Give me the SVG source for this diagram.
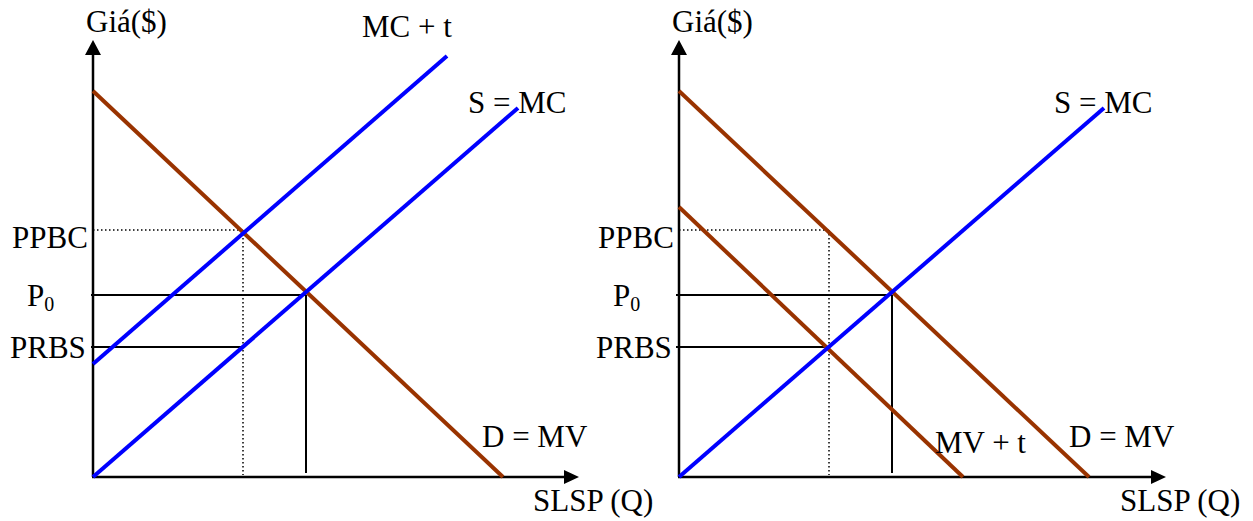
<svg xmlns="http://www.w3.org/2000/svg" width="1253" height="521" viewBox="0 0 1253 521">
<style>
text{font-family:"Liberation Serif","Times New Roman",serif;font-size:31px;fill:#000}
.sub{font-size:20px}
.axis{stroke:#000;stroke-width:2.5;fill:none}
.solid{stroke:#000;stroke-width:2;fill:none}
.dot{stroke:#000;stroke-width:1.5;stroke-dasharray:1.5 2.5;fill:none}
.blue{stroke:#0000FF;stroke-width:4;fill:none}
.brown{stroke:#993300;stroke-width:4;fill:none}
.head{fill:#000}
</style>
<rect width="1253" height="521" fill="#fff"/>
<g id="left-chart">
  <g id="left-axes">
    <line class="axis" x1="93" y1="54" x2="93" y2="477"/>
    <line class="axis" x1="92" y1="477" x2="565" y2="477"/>
    <polygon class="head" points="93,40 85,55 101,55"/>
    <polygon class="head" points="579,477 564,470 564,484"/>
    <text x="86" y="32">Giá($)</text>
    <text x="533" y="511">SLSP (Q)</text>
  </g>
  <g id="left-guides">
    <line class="dot" x1="93" y1="230" x2="243" y2="230"/>
    <line class="dot" x1="243" y1="230" x2="243" y2="475"/>
    <line class="solid" x1="91" y1="295" x2="306" y2="295"/>
    <line class="solid" x1="306" y1="295" x2="306" y2="473"/>
    <line class="solid" x1="91" y1="347" x2="243" y2="347"/>
  </g>
  <g id="left-curves">
    <line class="brown" x1="93" y1="91" x2="503" y2="477"/>
    <line class="blue" x1="93" y1="364" x2="447" y2="56"/>
    <line class="blue" x1="93" y1="477" x2="518" y2="108"/>
  </g>
  <g id="left-labels">
    <text x="362" y="37">MC + t</text>
    <text x="468" y="113">S = MC</text>
    <text x="482" y="447">D = MV</text>
    <text x="12" y="248">PPBC</text>
    <text x="27" y="306">P<tspan class="sub" dy="5">0</tspan></text>
    <text x="10" y="358">PRBS</text>
  </g>
</g>
<g id="right-chart">
  <g id="right-axes">
    <line class="axis" x1="679" y1="54" x2="679" y2="477"/>
    <line class="axis" x1="678" y1="477" x2="1152" y2="477"/>
    <polygon class="head" points="679,40 671,55 687,55"/>
    <polygon class="head" points="1166,477 1151,470 1151,484"/>
    <text x="672" y="32">Giá($)</text>
    <text x="1120" y="511">SLSP (Q)</text>
  </g>
  <g id="right-guides">
    <line class="dot" x1="679" y1="230" x2="829" y2="230"/>
    <line class="dot" x1="829" y1="230" x2="829" y2="475"/>
    <line class="solid" x1="676" y1="295" x2="892" y2="295"/>
    <line class="solid" x1="892" y1="295" x2="892" y2="473"/>
    <line class="solid" x1="676" y1="347" x2="829" y2="347"/>
  </g>
  <g id="right-curves">
    <line class="brown" x1="679" y1="91" x2="1089" y2="477"/>
    <line class="brown" x1="679" y1="207" x2="963" y2="477"/>
    <line class="blue" x1="679" y1="477" x2="1104" y2="108"/>
  </g>
  <g id="right-labels">
    <text x="1054" y="113">S = MC</text>
    <text x="935" y="453">MV + t</text>
    <text x="1069" y="447">D = MV</text>
    <text x="598" y="248">PPBC</text>
    <text x="613" y="306">P<tspan class="sub" dy="5">0</tspan></text>
    <text x="596" y="358">PRBS</text>
  </g>
</g>
</svg>
